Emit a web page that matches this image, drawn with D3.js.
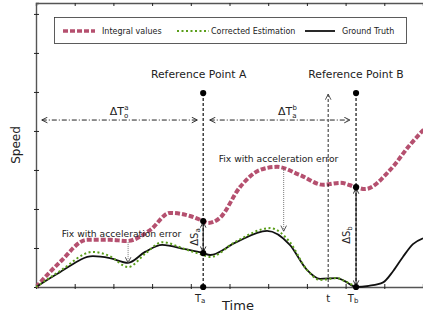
<!DOCTYPE html>
<html>
<head>
<meta charset="utf-8">
<script src="https://cdn.jsdelivr.net/npm/d3@7"></script>
<style>
  body { margin: 0; background: #fff; }
  text { font-family: "DejaVu Sans", sans-serif; fill: #222; }
</style>
</head>
<body>
<svg id="chart" width="423" height="320"></svg>
<script>
// data (x in tick units, y in tick units)
var truthX = [0, 0.62, 1.47, 1.91, 2.38, 2.82, 3.26, 3.85, 4.32, 4.50, 5.14, 5.97, 6.56, 7.00, 7.34, 7.78, 7.98, 8.27, 8.60, 8.97, 9.23, 9.48, 9.74, 10];
var truthY = [0, 0.38, 0.79, 0.74, 0.62, 0.90, 1.08, 0.97, 0.87, 0.82, 1.13, 1.44, 1.08, 0.44, 0.21, 0.23, 0.15, 0, 0.03, 0.12, 0.41, 0.77, 1.10, 1.25];

var corrX = [0, 0.62, 1.47, 1.91, 2.38, 2.82, 3.26, 3.85, 4.32, 4.50, 5.14, 6.05, 6.56, 7.00, 7.34, 7.78, 7.98, 8.27];
var corrY = [0, 0.41, 0.90, 0.79, 0.51, 0.85, 1.15, 0.97, 0.82, 0.77, 1.15, 1.51, 1.15, 0.44, 0.18, 0.23, 0.15, 0];

var integX = [0, 0.62, 1.32, 1.91, 2.35, 2.95, 3.46, 3.98, 4.32, 4.44, 4.75, 5.27, 5.79, 6.23, 6.82, 7.42, 7.86, 8.27, 8.50, 9.15, 9.66, 10.1];
var integY = [0, 0.64, 1.21, 1.21, 1.18, 1.46, 1.90, 1.82, 1.69, 1.64, 1.77, 2.56, 3.00, 3.08, 2.87, 2.62, 2.67, 2.56, 2.51, 3.00, 3.64, 4.12];

var seriesNames = ["Integral values", "Corrected Estimation", "Ground Truth"];
var refNames = ["Reference Point A", "Reference Point B"];
var refX = [4.32, 8.27];
var tX = 7.55;
var tickLabels = ["T", "t", "T"];
var refTop = 4.97;
var arrowY = 4.28;

var svg = d3.select("#chart");

var x = d3.scaleLinear().domain([0, 10]).range([36, 423]);
var y = d3.scaleLinear().domain([0, 7.28]).range([287, 3]);

var defs = svg.append("defs");
defs.append("clipPath").attr("id", "clip")
    .append("rect").attr("x", 36).attr("y", 3).attr("width", 390).attr("height", 290);

function arrowMarker(id, color) {
    defs.append("marker")
        .attr("id", id)
        .attr("viewBox", "0 0 10 10")
        .attr("refX", 9).attr("refY", 5)
        .attr("markerWidth", 7).attr("markerHeight", 7)
        .attr("markerUnits", "userSpaceOnUse")
        .attr("orient", "auto-start-reverse")
        .append("path")
        .attr("d", "M1,1 L9,5 L1,9")
        .attr("fill", "none")
        .attr("stroke", color)
        .attr("stroke-width", 1.3);
}
arrowMarker("arr", "#222");
arrowMarker("arrg", "#444");

// axes
var axisColor = "#555";
var bottomAx = svg.append("g").attr("transform", "translate(0," + y(0) + ")")
    .call(d3.axisBottom(x).ticks(10).tickSize(-3).tickFormat(""));
var topAx = svg.append("g").attr("transform", "translate(0," + y(7.28) + ")")
    .call(d3.axisBottom(x).ticks(10).tickSize(3).tickFormat(""));
var leftAx = svg.append("g").attr("transform", "translate(" + x(0) + ",0)")
    .call(d3.axisRight(y).ticks(8).tickSize(3).tickFormat(""));
[bottomAx, topAx, leftAx].forEach(function(g) {
    g.select(".domain").attr("stroke", axisColor).attr("stroke-width", 1.4);
    g.selectAll(".tick line").attr("stroke", "#222").attr("stroke-width", 1);
});
leftAx.selectAll(".tick line").attr("x1", -2);
bottomAx.selectAll(".tick line").attr("y1", 2);

// legend
svg.append("rect").attr("x", 54.5).attr("y", 17.5).attr("width", 352).attr("height", 26)
    .attr("fill", "#fff").attr("stroke", "#333").attr("stroke-width", 0.8);
var legX = [63, 177, 305];
var legW = [32, 32, 30];
var legStyles = [
    {color: "#b5506f", w: 3.5, dash: "5,2"},
    {color: "#5a9e1a", w: 1.8, dash: "2,2.5"},
    {color: "#111", w: 1.8, dash: null}
];
seriesNames.forEach(function(n, i) {
    svg.append("line")
        .attr("x1", legX[i]).attr("x2", legX[i] + legW[i])
        .attr("y1", 31).attr("y2", 31)
        .attr("stroke", legStyles[i].color)
        .attr("stroke-width", legStyles[i].w)
        .attr("stroke-dasharray", legStyles[i].dash);
    svg.append("text")
        .attr("x", legX[i] + legW[i] + (i == 1 ? 2 : 7)).attr("y", 34)
        .attr("font-size", "8px")
        .text(n);
});

var line = d3.line().curve(d3.curveMonotoneX)
    .x(function(d) { return x(d[0]); })
    .y(function(d) { return y(d[1]); });

var plot = svg.append("g").attr("clip-path", "url(#clip)");

// reference verticals
refX.forEach(function(r) {
    svg.append("line")
        .attr("x1", x(r)).attr("x2", x(r))
        .attr("y1", y(refTop)).attr("y2", y(0))
        .attr("stroke", "#111").attr("stroke-width", 1.2)
        .attr("stroke-dasharray", "3,2");
});
svg.append("line")
    .attr("x1", x(tX)).attr("x2", x(tX))
    .attr("y1", y(0)).attr("y2", y(refTop) + 1)
    .attr("stroke", "#111").attr("stroke-width", 0.9)
    .attr("stroke-dasharray", "3,2")
    .attr("marker-end", "url(#arrg)");

// curves
plot.append("path")
    .datum(d3.zip(integX, integY))
    .attr("d", line)
    .attr("fill", "none")
    .attr("stroke", "#b5506f")
    .attr("stroke-width", 4)
    .attr("stroke-dasharray", "5,2");

plot.append("path")
    .datum(d3.zip(truthX, truthY))
    .attr("d", line)
    .attr("fill", "none")
    .attr("stroke", "#111")
    .attr("stroke-width", 1.8);

plot.append("path")
    .datum(d3.zip(corrX, corrY))
    .attr("d", line)
    .attr("fill", "none")
    .attr("stroke", "#5a9e1a")
    .attr("stroke-width", 2)
    .attr("stroke-dasharray", "2,2.5");

// interpolate a curve value
function valAt(xs, ys, v) {
    var i = d3.bisectLeft(xs, v);
    if (xs[i] === v) return ys[i];
    var t = (v - xs[i - 1]) / (xs[i] - xs[i - 1]);
    return ys[i - 1] + t * (ys[i] - ys[i - 1]);
}

var gtA = valAt(truthX, truthY, refX[0]);
var inA = valAt(integX, integY, refX[0]);
var inB = valAt(integX, integY, refX[1]);

// delta S arrows
[[refX[0], inA, gtA], [refX[1], inB, 0]].forEach(function(a) {
    svg.append("line")
        .attr("x1", x(a[0])).attr("x2", x(a[0]))
        .attr("y1", y(a[1]) + 1).attr("y2", y(a[2]) - 1)
        .attr("stroke", "#111").attr("stroke-width", 1)
        .attr("marker-start", "url(#arr)")
        .attr("marker-end", "url(#arr)");
});

// dots
var dots = [[refX[0], refTop], [refX[1], refTop], [refX[0], 0], [refX[0], inA], [refX[0], gtA], [refX[1], inB], [refX[1], 0]];
svg.selectAll("circle.dot").data(dots).enter().append("circle")
    .attr("cx", function(d) { return x(d[0]); })
    .attr("cy", function(d) { return y(d[1]); })
    .attr("r", 3.1)
    .attr("fill", "#000");

// delta T arrows
[[0.15, refX[0] - 0.15], [refX[0] + 0.17, refX[1] - 0.16]].forEach(function(a) {
    svg.append("line")
        .attr("x1", x(a[0])).attr("x2", x(a[1]))
        .attr("y1", y(arrowY)).attr("y2", y(arrowY))
        .attr("stroke", "#222").attr("stroke-width", 1)
        .attr("stroke-dasharray", "5,2,1,2")
        .attr("marker-start", "url(#arr)")
        .attr("marker-end", "url(#arr)");
});

function deltaLabel(cx, cy, sub, sup) {
    var t = svg.append("text").attr("x", cx).attr("y", cy)
        .attr("text-anchor", "middle").attr("font-size", "11px");
    t.append("tspan").text("\u0394T");
    t.append("tspan").attr("font-size", "7px").attr("dy", 3).text(sub);
    t.append("tspan").attr("font-size", "7px").attr("dx", -4).attr("dy", -8).text(sup);
}
deltaLabel(x(2.15), y(arrowY) - 5, "o", "a");
deltaLabel(x(6.5), y(arrowY) - 5, "a", "b");

// reference labels
refNames.forEach(function(n, i) {
    svg.append("text")
        .attr("x", x(refX[i]) - (i == 0 ? 4.5 : 0)).attr("y", 78)
        .attr("text-anchor", "middle")
        .attr("font-size", "10.8px")
        .text(n);
});

// delta S labels
function deltaS(cx, cy, sub) {
    var t = svg.append("text")
        .attr("transform", "translate(" + cx + "," + cy + ") rotate(-90)")
        .attr("text-anchor", "middle").attr("font-size", "10px");
    t.append("tspan").text("\u0394S");
    t.append("tspan").attr("font-size", "7px").attr("dy", 2).text(sub);
}
deltaS(x(refX[0]) - 5, 237, "a");
deltaS(x(refX[1]) - 6, 235, "b");

// fix annotations
var fixes = [[2.38, 1.15, 0.62, 121.5, 237], [6.4, 3.05, 1.43, 278.5, 162]];
fixes.forEach(function(f) {
    svg.append("text")
        .attr("x", f[3]).attr("y", f[4])
        .attr("text-anchor", "middle")
        .attr("font-size", "9.2px")
        .text("Fix with acceleration error");
    svg.append("line")
        .attr("x1", x(f[0])).attr("x2", x(f[0]))
        .attr("y1", y(f[1])).attr("y2", y(f[2]))
        .attr("stroke", "#555").attr("stroke-width", 0.8)
        .attr("stroke-dasharray", "1,1")
        .attr("marker-end", "url(#arrg)");
});

// x tick labels
var tlx = [refX[0], tX, refX[1]];
var subs = ["a", "", "b"];
tlx.forEach(function(v, i) {
    var t = svg.append("text").attr("x", x(v) - (subs[i] ? 3 : 0)).attr("y", 302)
        .attr("text-anchor", "middle").attr("font-size", "10px");
    t.append("tspan").text(tickLabels[i]);
    if (subs[i]) t.append("tspan").attr("font-size", "7px").attr("dy", 1).text(subs[i]);
});

// axis titles
svg.append("text").attr("x", 238).attr("y", 310)
    .attr("text-anchor", "middle").attr("font-size", "13px").text("Time");
svg.append("text").attr("transform", "translate(20,145) rotate(-90)")
    .attr("text-anchor", "middle").attr("font-size", "12px").text("Speed");
</script>
</body>
</html>
